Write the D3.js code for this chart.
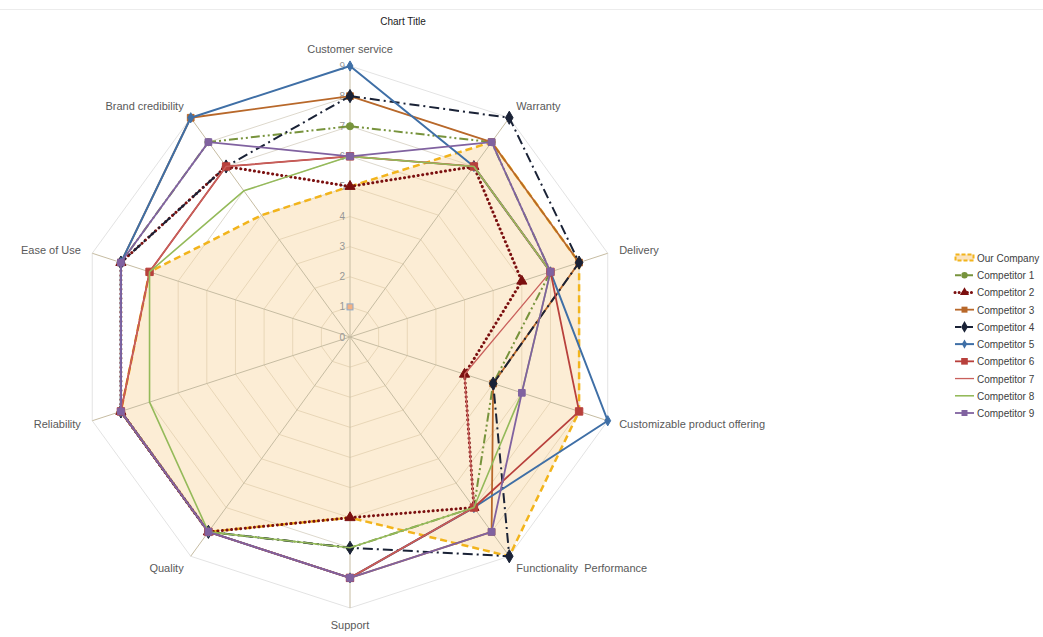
<!DOCTYPE html>
<html>
<head>
<meta charset="utf-8">
<script src="https://cdn.jsdelivr.net/npm/d3@7"></script>
<style>
	body { margin: 0; background: #fff; }
	svg { display: block; font-family: "Liberation Sans", Arial, sans-serif; }
</style>
</head>
<body>
<div class="chart"></div>
<script>
const axes = ['Customer service', 'Warranty', 'Delivery', 'Customizable product offering', 'Functionality  Performance',
	'Support', 'Quality', 'Reliability', 'Ease of Use', 'Brand credibility']
const ticks = [0, 1, 2, 3, 4, 5, 6, 7, 8, 9]

const ourCompany  = [5, 8, 8, 8, 9, 6, 8, 8, 7, 5]
const competitor1 = [7, 8, 7, 5, 7, 7, 8, 8, 8, 8]
const competitor2 = [5, 7, 6, 4, 7, 6, 8, 8, 8, 7]
const competitor3 = [8, 8, 8, 5, 8, 8, 8, 8, 8, 9]
const competitor4 = [8, 9, 8, 5, 9, 7, 8, 8, 8, 7]
const competitor5 = [9, 7, 7, 9, 7, 8, 8, 8, 8, 9]
const competitor6 = [6, 7, 7, 8, 7, 8, 8, 8, 7, 7]
const competitor7 = [6, 7, 7, 4, 7, 8, 8, 8, 7, 7]
const competitor8 = [6, 7, 7, 6, 7, 7, 8, 7, 7, 6]
const competitor9 = [6, 8, 7, 6, 8, 8, 8, 8, 8, 8]

const names = ['Our Company', 'Competitor 1', 'Competitor 2', 'Competitor 3', 'Competitor 4',
	'Competitor 5', 'Competitor 6', 'Competitor 7', 'Competitor 8', 'Competitor 9']
const values = [ourCompany, competitor1, competitor2, competitor3, competitor4,
	competitor5, competitor6, competitor7, competitor8, competitor9]

// styling per series, same order as names
const styles = [
	{ color: '#f2b41c', width: 2.5, dash: '7,4', marker: null },
	{ color: '#77933c', width: 2, dash: '9,3,2,3,2,3', marker: d3.symbolCircle, size: 40 },
	{ color: '#7b1010', width: 3, dash: '0.1,4.5', cap: 'round', marker: d3.symbolTriangle, size: 45 },
	{ color: '#b8682a', width: 1.8, dash: null, marker: d3.symbolSquare, size: 45 },
	{ color: '#1a2236', width: 2, dash: '10,4,2,4', marker: d3.symbolDiamond, size: 50 },
	{ color: '#3f6fa6', width: 2, dash: null, marker: d3.symbolDiamond, size: 30 },
	{ color: '#b8403c', width: 1.8, dash: null, marker: d3.symbolSquare, size: 55 },
	{ color: '#c9605c', width: 1.3, dash: null, marker: null },
	{ color: '#94ba5a', width: 1.6, dash: null, marker: null },
	{ color: '#8062a0', width: 1.8, dash: null, marker: d3.symbolSquare, size: 45 }
]

const width = 1043
const height = 637
const cx = 350
const cy = 337

const svg = d3.select('.chart')
			.append('svg')
			.attr('width', width)
			.attr('height', height)

svg.append('rect').attr('width', width).attr('height', height).attr('fill', '#fff')
svg.append('line')
	.attr('x1', 0).attr('x2', width).attr('y1', 9.5).attr('y2', 9.5)
	.attr('stroke', '#ececec')

svg.append('text')
	.attr('x', 403).attr('y', 25)
	.attr('text-anchor', 'middle')
	.style('font-size', '10px')
	.attr('fill', '#1a1a1a')
	.text('Chart Title')

const r = d3.scaleLinear().domain([0, 9]).range([0, 271])
const angle = d3.scalePoint().domain(d3.range(axes.length + 1)).range([0, 2 * Math.PI])

const px = (i, v) => cx + r(v) * Math.sin(angle(i % axes.length))
const py = (i, v) => cy - r(v) * Math.cos(angle(i % axes.length))

const g = svg.append('g')

// rings
g.selectAll('.ring')
	.data(ticks.slice(1))
	.enter()
	.append('polygon')
	.attr('points', t => axes.map((a, i) => px(i, t) + ',' + py(i, t)).join(' '))
	.attr('fill', 'none')
	.attr('stroke', t => t === 9 ? '#e3e3e3' : '#ddd8cc')
	.attr('stroke-width', 1)

// Our Company area (filled radar)
const radarLine = d3.line()
	.x((v, i) => px(i, v))
	.y((v, i) => py(i, v))
	.curve(d3.curveLinearClosed)

g.append('path')
	.attr('d', radarLine(ourCompany))
	.attr('fill', '#f9d39a')
	.attr('fill-opacity', 0.42)

// spokes
g.selectAll('.spoke')
	.data(axes)
	.enter()
	.append('line')
	.attr('x1', cx).attr('y1', cy)
	.attr('x2', (d, i) => px(i, 9))
	.attr('y2', (d, i) => py(i, 9))
	.attr('stroke', '#c6bca2')
	.attr('stroke-width', 1)

// tick labels
g.selectAll('.tick')
	.data(ticks)
	.enter()
	.append('text')
	.attr('x', cx - 5)
	.attr('y', t => py(0, t) + 3.5)
	.attr('text-anchor', 'end')
	.attr('fill', '#969696')
	.style('font-size', '10px')
	.text(t => t)

// small stray marker on the value axis
g.append('rect')
	.attr('x', cx - 3).attr('y', py(0, 1) - 3)
	.attr('width', 6).attr('height', 6)
	.attr('fill', '#f4b183')
	.attr('stroke', '#8fa9c9')

// axis labels
g.selectAll('.axis-label')
	.data(axes)
	.enter()
	.append('text')
	.attr('x', (d, i) => px(i, 9) + 12 * Math.sin(angle(i)))
	.attr('y', (d, i) => {
		const c = Math.cos(angle(i))
		return py(i, 9) - 12 * c - 5 * c * Math.pow(Math.abs(c), 3) + 4
	})
	.attr('text-anchor', (d, i) => {
		const s = Math.sin(angle(i))
		return Math.abs(s) < 0.01 ? 'middle' : (s > 0 ? 'start' : 'end')
	})
	.attr('fill', '#595959')
	.style('font-size', '11px')
	.style('white-space', 'pre')
	.text(d => d)

// series lines
values.forEach((vals, k) => {
	const st = styles[k]
	g.append('path')
		.attr('d', radarLine(vals))
		.attr('fill', 'none')
		.attr('stroke', st.color)
		.attr('stroke-width', st.width)
		.attr('stroke-dasharray', st.dash)
		.attr('stroke-linecap', st.cap || 'butt')
		.attr('stroke-linejoin', 'round')

	if (st.marker) {
		g.selectAll('.m' + k)
			.data(vals)
			.enter()
			.append('path')
			.attr('d', d3.symbol().type(st.marker).size(st.size))
			.attr('transform', (v, i) => `translate(${px(i, v)},${py(i, v)})`)
			.attr('fill', st.color)
			.attr('stroke', st.color)
	}
})

// legend
const legend = svg.append('g')
const ly = d3.scaleLinear().domain([0, 9]).range([258, 413])

const item = legend.selectAll('.legend-item')
	.data(names)
	.enter()
	.append('g')
	.attr('transform', (d, i) => `translate(955,${ly(i)})`)

item.each(function (d, i) {
	const st = styles[i]
	const sel = d3.select(this)
	if (i === 0) {
		sel.append('rect')
			.attr('x', 0.5).attr('y', -3.5).attr('width', 18).attr('height', 6)
			.attr('fill', '#fbe3bd')
			.attr('stroke', st.color)
			.attr('stroke-width', 2)
			.attr('stroke-dasharray', '4,2')
	} else {
		sel.append('line')
			.attr('x1', 0).attr('x2', 19).attr('y1', 0).attr('y2', 0)
			.attr('stroke', st.color)
			.attr('stroke-width', st.width)
			.attr('stroke-dasharray', st.dash ? (i === 2 ? '0.1,4' : '6,2,2,2') : null)
			.attr('stroke-linecap', st.cap || 'butt')
		if (st.marker) {
			sel.append('path')
				.attr('d', d3.symbol().type(st.marker).size(st.size * 0.8))
				.attr('transform', 'translate(9.5,0)')
				.attr('fill', st.color)
		}
	}
	sel.append('text')
		.attr('x', 22).attr('y', 4)
		.attr('fill', '#404040')
		.style('font-size', '10px')
		.text(d)
})
</script>
</body>
</html>
